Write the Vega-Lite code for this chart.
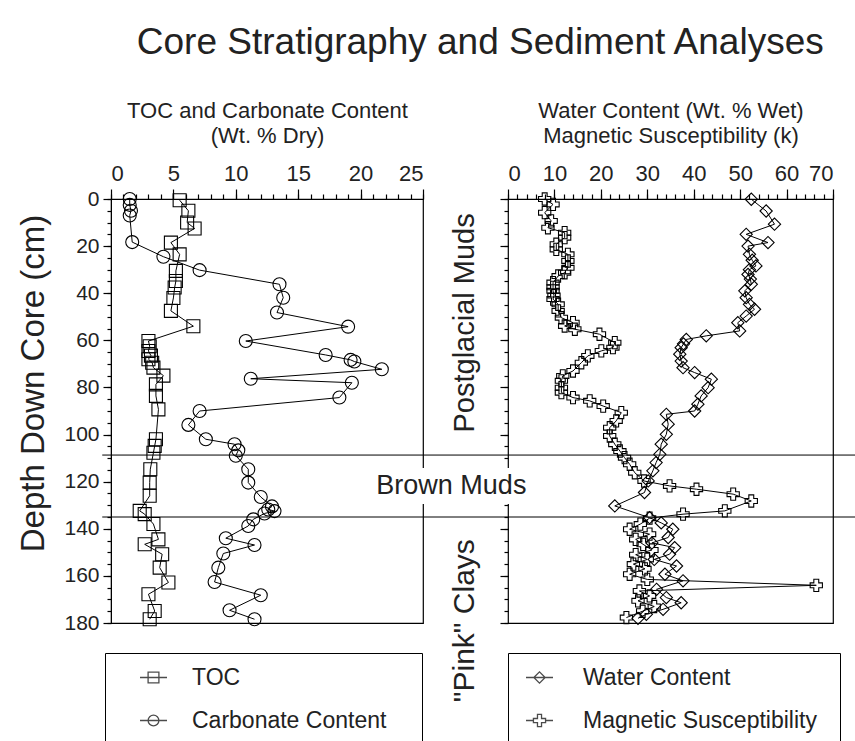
{
  "$schema": "https://vega.github.io/schema/vega-lite/v6.json",
  "padding": {"left": 17, "top": 24, "right": 0, "bottom": 0},
  "title": {"text": "Core Stratigraphy and Sediment Analyses", "fontSize": 37, "font": "Liberation Sans", "fontWeight": "normal", "color": "#222", "anchor": "middle", "offset": 36, "dx": 42},
  "config": {
    "view": {"stroke": "black", "strokeWidth": 1.2},
    "font": "Liberation Sans",
    "axis": {"domainColor": "black", "tickColor": "black", "tickWidth": 1.2, "labelColor": "#222", "titleColor": "#222", "labelFont": "Liberation Sans", "titleFont": "Liberation Sans", "titleFontWeight": "normal", "grid": false, "labelFontSize": 22, "titleFontSize": 22, "labelOverlap": false, "labelBound": false},
    "legend": {"strokeColor": "black", "fillColor": "white", "padding": 10, "symbolSize": 729, "symbolStrokeWidth": 1.3, "symbolStrokeColor": "black", "symbolFillColor": "transparent", "labelFontSize": 23, "labelColor": "#222", "labelLimit": 600, "rowPadding": 16, "title": null}
  },
  "spacing": 85,
  "bounds": "flush",
  "resolve": {"scale": {"color": "independent", "shape": "independent"}},
  "datasets": {
    "sed": [
      {"s": "TOC", "d": 0.5, "v": 5.5}, {"s": "TOC", "d": 5, "v": 6.2}, {"s": "TOC", "d": 10, "v": 6.1}, {"s": "TOC", "d": 12.5, "v": 6.7},
      {"s": "TOC", "d": 18.5, "v": 4.8}, {"s": "TOC", "d": 23.5, "v": 5.5}, {"s": "TOC", "d": 30.5, "v": 5.2}, {"s": "TOC", "d": 34.8, "v": 5.2},
      {"s": "TOC", "d": 37.6, "v": 5.1}, {"s": "TOC", "d": 42, "v": 5.0}, {"s": "TOC", "d": 47.5, "v": 4.8}, {"s": "TOC", "d": 54, "v": 6.6},
      {"s": "TOC", "d": 60.3, "v": 3.0}, {"s": "TOC", "d": 62.5, "v": 3.1}, {"s": "TOC", "d": 64.5, "v": 3.0}, {"s": "TOC", "d": 66.5, "v": 3.2},
      {"s": "TOC", "d": 68, "v": 3.0}, {"s": "TOC", "d": 69.5, "v": 3.3}, {"s": "TOC", "d": 71.6, "v": 3.4}, {"s": "TOC", "d": 75, "v": 4.2},
      {"s": "TOC", "d": 78.7, "v": 3.6}, {"s": "TOC", "d": 83.6, "v": 3.6}, {"s": "TOC", "d": 89.3, "v": 3.8}, {"s": "TOC", "d": 102, "v": 3.6},
      {"s": "TOC", "d": 104.8, "v": 3.5}, {"s": "TOC", "d": 107.7, "v": 3.4}, {"s": "TOC", "d": 114.7, "v": 3.15}, {"s": "TOC", "d": 120.4, "v": 3.1},
      {"s": "TOC", "d": 126, "v": 3.1}, {"s": "TOC", "d": 132.4, "v": 2.3}, {"s": "TOC", "d": 133.8, "v": 2.7}, {"s": "TOC", "d": 138, "v": 3.4},
      {"s": "TOC", "d": 144.5, "v": 3.8}, {"s": "TOC", "d": 146.6, "v": 2.7}, {"s": "TOC", "d": 150.8, "v": 4.1}, {"s": "TOC", "d": 156.5, "v": 3.9},
      {"s": "TOC", "d": 162.8, "v": 4.6}, {"s": "TOC", "d": 167.8, "v": 3.0}, {"s": "TOC", "d": 174.9, "v": 3.5}, {"s": "TOC", "d": 178.4, "v": 3.1},
      {"s": "Carbonate Content", "d": 0, "v": 1.5}, {"s": "Carbonate Content", "d": 2.5, "v": 1.5}, {"s": "Carbonate Content", "d": 5, "v": 1.6},
      {"s": "Carbonate Content", "d": 7, "v": 1.5}, {"s": "Carbonate Content", "d": 18.3, "v": 1.7}, {"s": "Carbonate Content", "d": 24.5, "v": 4.2},
      {"s": "Carbonate Content", "d": 30.2, "v": 7.1}, {"s": "Carbonate Content", "d": 36.2, "v": 13.5}, {"s": "Carbonate Content", "d": 41.9, "v": 13.8},
      {"s": "Carbonate Content", "d": 48.2, "v": 13.3}, {"s": "Carbonate Content", "d": 54.2, "v": 19.0}, {"s": "Carbonate Content", "d": 60.3, "v": 10.8},
      {"s": "Carbonate Content", "d": 66.2, "v": 17.2}, {"s": "Carbonate Content", "d": 68.3, "v": 19.2}, {"s": "Carbonate Content", "d": 69, "v": 19.5},
      {"s": "Carbonate Content", "d": 72.3, "v": 21.7}, {"s": "Carbonate Content", "d": 76.3, "v": 11.2}, {"s": "Carbonate Content", "d": 78, "v": 19.3},
      {"s": "Carbonate Content", "d": 84.3, "v": 18.3}, {"s": "Carbonate Content", "d": 90, "v": 7.1}, {"s": "Carbonate Content", "d": 95.9, "v": 6.2},
      {"s": "Carbonate Content", "d": 102, "v": 7.6}, {"s": "Carbonate Content", "d": 104.1, "v": 9.9}, {"s": "Carbonate Content", "d": 106.7, "v": 10.2},
      {"s": "Carbonate Content", "d": 109, "v": 10.0}, {"s": "Carbonate Content", "d": 114.7, "v": 11.0}, {"s": "Carbonate Content", "d": 120.4, "v": 11.0},
      {"s": "Carbonate Content", "d": 126.5, "v": 12.0}, {"s": "Carbonate Content", "d": 130.5, "v": 12.9}, {"s": "Carbonate Content", "d": 131.8, "v": 12.6},
      {"s": "Carbonate Content", "d": 132.5, "v": 13.1}, {"s": "Carbonate Content", "d": 133.5, "v": 12.3}, {"s": "Carbonate Content", "d": 136, "v": 11.4},
      {"s": "Carbonate Content", "d": 138.8, "v": 11.0}, {"s": "Carbonate Content", "d": 144, "v": 9.2}, {"s": "Carbonate Content", "d": 146.9, "v": 11.5},
      {"s": "Carbonate Content", "d": 150.5, "v": 9.0}, {"s": "Carbonate Content", "d": 156.5, "v": 8.6}, {"s": "Carbonate Content", "d": 162.6, "v": 8.3},
      {"s": "Carbonate Content", "d": 168.2, "v": 12.0}, {"s": "Carbonate Content", "d": 174.6, "v": 9.5}, {"s": "Carbonate Content", "d": 178.4, "v": 11.5}
    ],
    "phys": [
      {"s": "Magnetic Susceptibility", "d": 0, "v": 7.9}, {"s": "Magnetic Susceptibility", "d": 2.3, "v": 9.7}, {"s": "Magnetic Susceptibility", "d": 5.8, "v": 7.9},
      {"s": "Magnetic Susceptibility", "d": 9.3, "v": 9.3}, {"s": "Magnetic Susceptibility", "d": 12.2, "v": 8.6}, {"s": "Magnetic Susceptibility", "d": 14.3, "v": 12.2},
      {"s": "Magnetic Susceptibility", "d": 16.4, "v": 12.2}, {"s": "Magnetic Susceptibility", "d": 19.2, "v": 10.4}, {"s": "Magnetic Susceptibility", "d": 21.4, "v": 10.4},
      {"s": "Magnetic Susceptibility", "d": 23.5, "v": 12.9}, {"s": "Magnetic Susceptibility", "d": 26.3, "v": 12.9}, {"s": "Magnetic Susceptibility", "d": 29.2, "v": 12.9},
      {"s": "Magnetic Susceptibility", "d": 31.3, "v": 12.2}, {"s": "Magnetic Susceptibility", "d": 32.7, "v": 10.8}, {"s": "Magnetic Susceptibility", "d": 35.5, "v": 9.7},
      {"s": "Magnetic Susceptibility", "d": 37.5, "v": 9.7}, {"s": "Magnetic Susceptibility", "d": 39, "v": 9.7}, {"s": "Magnetic Susceptibility", "d": 41, "v": 9.9},
      {"s": "Magnetic Susceptibility", "d": 42.5, "v": 9.7}, {"s": "Magnetic Susceptibility", "d": 44.7, "v": 10.8}, {"s": "Magnetic Susceptibility", "d": 47.5, "v": 10.8},
      {"s": "Magnetic Susceptibility", "d": 50.4, "v": 11.5}, {"s": "Magnetic Susceptibility", "d": 52.5, "v": 14.0}, {"s": "Magnetic Susceptibility", "d": 53.9, "v": 12.2},
      {"s": "Magnetic Susceptibility", "d": 55.3, "v": 14.4}, {"s": "Magnetic Susceptibility", "d": 57.4, "v": 19.7}, {"s": "Magnetic Susceptibility", "d": 61, "v": 23.0},
      {"s": "Magnetic Susceptibility", "d": 63.1, "v": 22.6}, {"s": "Magnetic Susceptibility", "d": 64.5, "v": 20.1}, {"s": "Magnetic Susceptibility", "d": 66.6, "v": 17.2},
      {"s": "Magnetic Susceptibility", "d": 69.5, "v": 15.8}, {"s": "Magnetic Susceptibility", "d": 73, "v": 14.0}, {"s": "Magnetic Susceptibility", "d": 75.1, "v": 11.8},
      {"s": "Magnetic Susceptibility", "d": 77.2, "v": 11.5}, {"s": "Magnetic Susceptibility", "d": 80.1, "v": 11.5}, {"s": "Magnetic Susceptibility", "d": 82.2, "v": 11.5},
      {"s": "Magnetic Susceptibility", "d": 84.3, "v": 14.0}, {"s": "Magnetic Susceptibility", "d": 85.7, "v": 17.6}, {"s": "Magnetic Susceptibility", "d": 87.9, "v": 20.5},
      {"s": "Magnetic Susceptibility", "d": 90.7, "v": 24.4}, {"s": "Magnetic Susceptibility", "d": 94.2, "v": 23.3}, {"s": "Magnetic Susceptibility", "d": 97.1, "v": 21.9},
      {"s": "Magnetic Susceptibility", "d": 100.6, "v": 21.9}, {"s": "Magnetic Susceptibility", "d": 104.1, "v": 23.0}, {"s": "Magnetic Susceptibility", "d": 107, "v": 24.1},
      {"s": "Magnetic Susceptibility", "d": 109.8, "v": 25.1}, {"s": "Magnetic Susceptibility", "d": 112.6, "v": 26.2}, {"s": "Magnetic Susceptibility", "d": 116.2, "v": 27.3},
      {"s": "Magnetic Susceptibility", "d": 119.7, "v": 29.3}, {"s": "Magnetic Susceptibility", "d": 121.8, "v": 34.8}, {"s": "Magnetic Susceptibility", "d": 123.2, "v": 40.6},
      {"s": "Magnetic Susceptibility", "d": 125.3, "v": 48.5}, {"s": "Magnetic Susceptibility", "d": 128.2, "v": 52.4}, {"s": "Magnetic Susceptibility", "d": 132.4, "v": 46.7},
      {"s": "Magnetic Susceptibility", "d": 133.8, "v": 37.7}, {"s": "Magnetic Susceptibility", "d": 135.5, "v": 30.5}, {"s": "Magnetic Susceptibility", "d": 138, "v": 28.5},
      {"s": "Magnetic Susceptibility", "d": 140.2, "v": 26.2}, {"s": "Magnetic Susceptibility", "d": 142.3, "v": 30.5}, {"s": "Magnetic Susceptibility", "d": 144.5, "v": 27.5},
      {"s": "Magnetic Susceptibility", "d": 146.6, "v": 29.1}, {"s": "Magnetic Susceptibility", "d": 149, "v": 31.0}, {"s": "Magnetic Susceptibility", "d": 151, "v": 27.5},
      {"s": "Magnetic Susceptibility", "d": 153, "v": 30.0}, {"s": "Magnetic Susceptibility", "d": 155, "v": 27.0}, {"s": "Magnetic Susceptibility", "d": 157, "v": 29.5},
      {"s": "Magnetic Susceptibility", "d": 159.3, "v": 26.2}, {"s": "Magnetic Susceptibility", "d": 161.5, "v": 30.0}, {"s": "Magnetic Susceptibility", "d": 164, "v": 66.4},
      {"s": "Magnetic Susceptibility", "d": 166.4, "v": 28.3}, {"s": "Magnetic Susceptibility", "d": 168.5, "v": 30.5}, {"s": "Magnetic Susceptibility", "d": 170.6, "v": 28.0},
      {"s": "Magnetic Susceptibility", "d": 173, "v": 31.5}, {"s": "Magnetic Susceptibility", "d": 175, "v": 29.0}, {"s": "Magnetic Susceptibility", "d": 177.7, "v": 25.5},
      {"s": "Water Content", "d": 0.1, "v": 52.4}, {"s": "Water Content", "d": 5.1, "v": 55.6}, {"s": "Water Content", "d": 10.7, "v": 57.4},
      {"s": "Water Content", "d": 15, "v": 51.3}, {"s": "Water Content", "d": 18.5, "v": 56.0}, {"s": "Water Content", "d": 20, "v": 51.7},
      {"s": "Water Content", "d": 23.5, "v": 52.0}, {"s": "Water Content", "d": 26, "v": 52.6}, {"s": "Water Content", "d": 28.4, "v": 53.4},
      {"s": "Water Content", "d": 30, "v": 52.0}, {"s": "Water Content", "d": 32, "v": 51.7}, {"s": "Water Content", "d": 34, "v": 52.2},
      {"s": "Water Content", "d": 36.2, "v": 52.4}, {"s": "Water Content", "d": 39, "v": 51.0}, {"s": "Water Content", "d": 41.9, "v": 51.3},
      {"s": "Water Content", "d": 44.7, "v": 52.0}, {"s": "Water Content", "d": 46.8, "v": 53.1}, {"s": "Water Content", "d": 49.7, "v": 51.3},
      {"s": "Water Content", "d": 52.5, "v": 49.5}, {"s": "Water Content", "d": 56, "v": 49.9}, {"s": "Water Content", "d": 58.1, "v": 42.7},
      {"s": "Water Content", "d": 59.6, "v": 38.4}, {"s": "Water Content", "d": 61.5, "v": 37.8}, {"s": "Water Content", "d": 63.1, "v": 37.3},
      {"s": "Water Content", "d": 65.9, "v": 37.0}, {"s": "Water Content", "d": 68.8, "v": 37.3}, {"s": "Water Content", "d": 71.6, "v": 37.7},
      {"s": "Water Content", "d": 73.7, "v": 40.2}, {"s": "Water Content", "d": 76.5, "v": 43.8}, {"s": "Water Content", "d": 80.1, "v": 43.1},
      {"s": "Water Content", "d": 83.6, "v": 41.6}, {"s": "Water Content", "d": 87.1, "v": 40.9}, {"s": "Water Content", "d": 90, "v": 40.2},
      {"s": "Water Content", "d": 91.4, "v": 34.1}, {"s": "Water Content", "d": 95.6, "v": 34.5}, {"s": "Water Content", "d": 99.9, "v": 34.1},
      {"s": "Water Content", "d": 104.1, "v": 33.0}, {"s": "Water Content", "d": 108.4, "v": 32.7}, {"s": "Water Content", "d": 111.9, "v": 31.9},
      {"s": "Water Content", "d": 115.4, "v": 31.2}, {"s": "Water Content", "d": 119.7, "v": 30.2}, {"s": "Water Content", "d": 124.6, "v": 29.4},
      {"s": "Water Content", "d": 130.3, "v": 23.0}, {"s": "Water Content", "d": 135.3, "v": 30.5}, {"s": "Water Content", "d": 137.5, "v": 33.0},
      {"s": "Water Content", "d": 140.2, "v": 35.5}, {"s": "Water Content", "d": 143.7, "v": 34.5}, {"s": "Water Content", "d": 146, "v": 31.0},
      {"s": "Water Content", "d": 148, "v": 35.9}, {"s": "Water Content", "d": 150.8, "v": 34.8}, {"s": "Water Content", "d": 153, "v": 31.5},
      {"s": "Water Content", "d": 155.8, "v": 36.3}, {"s": "Water Content", "d": 159.3, "v": 33.8}, {"s": "Water Content", "d": 162.1, "v": 37.7},
      {"s": "Water Content", "d": 165.7, "v": 32.0}, {"s": "Water Content", "d": 169.2, "v": 34.1}, {"s": "Water Content", "d": 171.4, "v": 37.3},
      {"s": "Water Content", "d": 174.2, "v": 33.4}, {"s": "Water Content", "d": 176.3, "v": 29.8}, {"s": "Water Content", "d": 178, "v": 28.0}
    ],
    "units": [
      {"unit": "Postglacial Muds", "base": 108.7},
      {"unit": "Brown Muds", "base": 135}
    ]
  },
  "hconcat": [
    {
      "width": 312,
      "height": 424,
      "resolve": {"axis": {"x": "independent", "y": "independent"}, "scale": {"x": "independent", "y": "independent", "shape": "independent"}},
      "layer": [
        {
          "data": {"name": "sed"},
          "mark": {"type": "line", "strokeWidth": 1, "color": "black"},
          "encoding": {
            "x": {"field": "v", "type": "quantitative", "scale": {"domain": [0, 25], "nice": false, "zero": false},
              "axis": {"orient": "top", "values": [0, 5, 10, 15, 20, 25], "tickSize": 10, "labelPadding": 4,
                "title": ["TOC and Carbonate Content", "(Wt. % Dry)"], "titlePadding": 15, "titleLineHeight": 25}},
            "y": {"field": "d", "type": "quantitative", "scale": {"domain": [0, 180], "reverse": true, "nice": false, "zero": false},
              "axis": {"orient": "left", "values": [0, 20, 40, 60, 80, 100, 120, 140, 160, 180], "tickSize": 8,
                "labelFontSize": 21, "labelPadding": 4, "title": "Depth Down Core (cm)", "titleFontSize": 33, "titlePadding": 13, "titleY": 184}},
            "detail": {"field": "s", "type": "nominal"},
            "order": {"field": "d", "type": "quantitative"}
          }
        },
        {
          "data": {"name": "sed"},
          "mark": {"type": "point", "filled": false, "size": 169, "strokeWidth": 1.1, "opacity": 1, "color": "black"},
          "encoding": {
            "x": {"field": "v", "type": "quantitative", "scale": {"domain": [0, 25], "nice": false, "zero": false},
              "axis": {"orient": "top", "values": [0,1,2,3,4,5,6,7,8,9,10,11,12,13,14,15,16,17,18,19,20,21,22,23,24,25], "tickSize": 5, "labels": false, "domain": false, "title": null}},
            "y": {"field": "d", "type": "quantitative", "scale": {"domain": [0, 180], "reverse": true, "nice": false, "zero": false},
              "axis": {"orient": "left", "values": [0,5,10,15,20,25,30,35,40,45,50,55,60,65,70,75,80,85,90,95,100,105,110,115,120,125,130,135,140,145,150,155,160,165,170,175,180], "tickSize": 4, "labels": false, "domain": false, "title": null}},
            "shape": {"field": "s", "type": "nominal", "scale": {"domain": ["TOC", "Carbonate Content"], "range": ["square", "circle"]}, "legend": null}
          }
        },
        {
          "data": {"name": "sed"},
          "transform": [{"filter": "datum.d < 0"}],
          "mark": {"type": "point", "filled": false, "color": "black", "strokeWidth": 1.3},
          "encoding": {
            "x": {"field": "v", "type": "quantitative", "axis": null, "scale": {"domain": [0, 25], "nice": false, "zero": false}},
            "y": {"field": "d", "type": "quantitative", "axis": null, "scale": {"domain": [0, 180], "reverse": true, "nice": false, "zero": false}},
            "shape": {"field": "s", "type": "nominal",
              "scale": {"domain": ["TOC", "Carbonate Content"], "range": ["M-1,0H1M-0.4,-0.4H0.4V0.4H-0.4Z", "M-1,0H1M0.4,0A0.4,0.4,0,1,1,-0.4,0A0.4,0.4,0,1,1,0.4,0Z"]},
              "legend": {"orient": "none", "legendX": -6, "legendY": 454, "symbolOffset": 24, "labelOffset": 24,
                "labelExpr": "datum.label + '\u00a0\u00a0\u00a0\u00a0\u200b'"}}
          }
        },
        {
          "data": {"name": "units"},
          "mark": {"type": "rule", "color": "black", "strokeWidth": 1},
          "encoding": {
            "y": {"field": "base", "type": "quantitative", "axis": null, "scale": {"domain": [0, 180], "reverse": true, "nice": false, "zero": false}},
            "x": {"datum": -0.7, "axis": null, "scale": {"domain": [0, 25], "nice": false, "zero": false}},
            "x2": {"datum": 25}
          }
        }
      ]
    },
    {
      "width": 325,
      "height": 424,
      "resolve": {"axis": {"x": "independent", "y": "independent"}, "scale": {"x": "independent", "y": "independent", "shape": "independent"}},
      "layer": [
        {
          "data": {"values": [{}]},
          "mark": {"type": "rect", "fill": "white", "stroke": null},
          "encoding": {
            "x": {"datum": -28.6, "axis": null, "scale": {"domain": [0, 70], "nice": false, "zero": false}},
            "x2": {"datum": 4.3},
            "y": {"datum": 114.2, "axis": null, "scale": {"domain": [0, 180], "reverse": true, "nice": false, "zero": false}},
            "y2": {"datum": 129.5}
          }
        },
        {
          "data": {"name": "phys"},
          "mark": {"type": "line", "strokeWidth": 1, "color": "black"},
          "encoding": {
            "x": {"field": "v", "type": "quantitative", "scale": {"domain": [0, 70], "nice": false, "zero": false},
              "axis": {"orient": "top", "values": [0, 10, 20, 30, 40, 50, 60, 70], "tickSize": 10, "labelPadding": 4,
                "title": ["Water Content (Wt. % Wet)", "Magnetic Susceptibility (k)"], "titlePadding": 15, "titleLineHeight": 25}},
            "y": {"field": "d", "type": "quantitative", "scale": {"domain": [0, 180], "reverse": true, "nice": false, "zero": false},
              "axis": {"orient": "left", "values": [0, 20, 40, 60, 80, 100, 120, 140, 160, 180], "tickSize": 8, "labels": false, "domain": false, "title": null}},
            "detail": {"field": "s", "type": "nominal"},
            "order": {"field": "d", "type": "quantitative"}
          }
        },
        {
          "data": {"name": "phys"},
          "mark": {"type": "point", "filled": false, "size": 150, "strokeWidth": 1.1, "opacity": 1, "color": "black"},
          "encoding": {
            "x": {"field": "v", "type": "quantitative", "scale": {"domain": [0, 70], "nice": false, "zero": false},
              "axis": {"orient": "top", "values": [0,2,4,6,8,10,12,14,16,18,20,22,24,26,28,30,32,34,36,38,40,42,44,46,48,50,52,54,56,58,60,62,64,66,68,70], "tickSize": 5, "labels": false, "domain": false, "title": null}},
            "y": {"field": "d", "type": "quantitative", "scale": {"domain": [0, 180], "reverse": true, "nice": false, "zero": false},
              "axis": {"orient": "left", "values": [0,5,10,15,20,25,30,35,40,45,50,55,60,65,70,75,80,85,90,95,100,105,110,115,120,125,130,135,140,145,150,155,160,165,170,175,180], "tickSize": 4, "labels": false, "domain": false, "title": null}},
            "shape": {"field": "s", "type": "nominal", "scale": {"domain": ["Water Content", "Magnetic Susceptibility"], "range": ["diamond", "cross"]}, "legend": null}
          }
        },
        {
          "data": {"name": "phys"},
          "transform": [{"filter": "datum.d < 0"}],
          "mark": {"type": "point", "filled": false, "color": "black", "strokeWidth": 1.3},
          "encoding": {
            "x": {"field": "v", "type": "quantitative", "axis": null, "scale": {"domain": [0, 70], "nice": false, "zero": false}},
            "y": {"field": "d", "type": "quantitative", "axis": null, "scale": {"domain": [0, 180], "reverse": true, "nice": false, "zero": false}},
            "shape": {"field": "s", "type": "nominal",
              "scale": {"domain": ["Water Content", "Magnetic Susceptibility"], "range": ["M-1,0H1M-0.42,0L0,-0.42L0.42,0L0,0.42Z", "M-1,0H-0.45M0.45,0H1M-0.45,-0.15H-0.15V-0.45H0.15V-0.15H0.45V0.15H0.15V0.45H-0.15V0.15H-0.45Z"]},
              "legend": {"orient": "none", "legendX": 0, "legendY": 454, "symbolOffset": 7, "labelOffset": 29,
                "labelExpr": "datum.label + '\u00a0\u00a0\u200b'"}}
          }
        },
        {
          "data": {"name": "units"},
          "mark": {"type": "rule", "color": "black", "strokeWidth": 1},
          "encoding": {
            "y": {"field": "base", "type": "quantitative", "axis": null, "scale": {"domain": [0, 180], "reverse": true, "nice": false, "zero": false}},
            "x": {"datum": -18.3, "axis": null, "scale": {"domain": [0, 70], "nice": false, "zero": false}},
            "x2": {"datum": 75.4}
          }
        },
        {
          "data": {"values": [{}]},
          "mark": {"type": "text", "fontSize": 29, "angle": 270, "align": "center", "baseline": "middle", "color": "#222"},
          "encoding": {"x": {"datum": -9.3, "axis": null, "scale": {"domain": [0, 70], "nice": false, "zero": false}}, "y": {"datum": 52.6, "axis": null, "scale": {"domain": [0, 180], "reverse": true, "nice": false, "zero": false}}, "text": {"value": "Postglacial Muds"}}
        },
        {
          "data": {"values": [{}]},
          "mark": {"type": "text", "fontSize": 27, "align": "center", "baseline": "middle", "color": "#222"},
          "encoding": {"x": {"datum": -12.2, "axis": null, "scale": {"domain": [0, 70], "nice": false, "zero": false}}, "y": {"datum": 121.8, "axis": null, "scale": {"domain": [0, 180], "reverse": true, "nice": false, "zero": false}}, "text": {"value": "Brown Muds"}}
        },
        {
          "data": {"values": [{}]},
          "mark": {"type": "text", "fontSize": 30, "angle": 270, "align": "center", "baseline": "middle", "color": "#222"},
          "encoding": {"x": {"datum": -9.3, "axis": null, "scale": {"domain": [0, 70], "nice": false, "zero": false}}, "y": {"datum": 179, "axis": null, "scale": {"domain": [0, 180], "reverse": true, "nice": false, "zero": false}}, "text": {"value": "\"Pink\" Clays"}}
        }
      ]
    }
  ]
}
